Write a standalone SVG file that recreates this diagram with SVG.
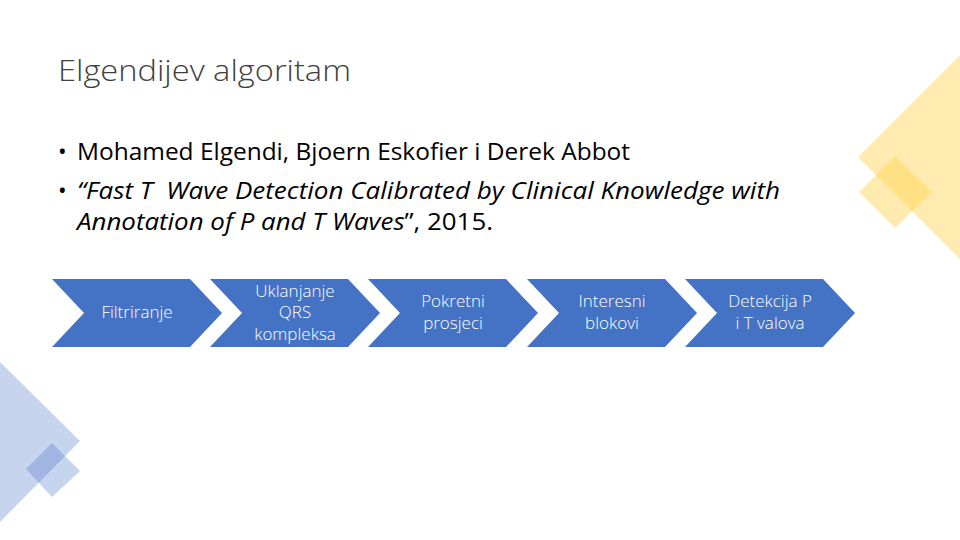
<svg xmlns="http://www.w3.org/2000/svg" width="960" height="540" viewBox="0 0 960 540">
<style>
.title{font-family:"Open Sans","Liberation Sans",sans-serif;font-weight:300;font-size:29px;fill:#404040}
.body{font-family:"Open Sans","Liberation Sans",sans-serif;font-size:23px;fill:#000}
.chev{fill:#4472C4}
.lbl{font-family:"Open Sans","Liberation Sans",sans-serif;font-weight:300;font-size:17px;fill:#fff;text-anchor:middle}
.yel{fill:#FFD24D;opacity:0.45}
.blu{fill:#4472C4;opacity:0.3}
</style>
<defs>
<path id="chevron" d="M0,0 H138 L170,34 L138,68 H0 L32,34 Z"/>
</defs>
<rect width="960" height="540" fill="#fff"/>
<g id="decor-yellow">
<polygon class="yel" points="858,157 960,55 960,259"/>
<polygon class="yel" points="859,192 895,156 932,192 895,228"/>
</g>
<g id="decor-blue">
<polygon class="blu" points="0,362 80,441 0,522"/>
<polygon class="blu" points="26,469 52,443 80,471 52,497"/>
</g>
<g id="title"><text class="title" x="58" y="81" textLength="293" lengthAdjust="spacingAndGlyphs">Elgendijev algoritam</text></g>
<g id="bullets">
<text class="body" x="58" y="160">•</text>
<text class="body" x="77" y="160" textLength="553" lengthAdjust="spacingAndGlyphs">Mohamed Elgendi, Bjoern Eskofier i Derek Abbot</text>
<text class="body" x="58" y="199">•</text>
<text class="body" x="77" y="199" textLength="703" lengthAdjust="spacingAndGlyphs" xml:space="preserve"><tspan font-style="italic">“Fast T  Wave Detection Calibrated by Clinical Knowledge with</tspan></text>
<text class="body" x="77" y="230" textLength="416" lengthAdjust="spacingAndGlyphs" xml:space="preserve"><tspan font-style="italic">Annotation of P and T Waves</tspan>”, 2015.</text>
</g>
<g id="connectors"></g>
<g id="step1"><use href="#chevron" class="chev" x="52" y="279"/><text class="lbl" x="137" y="318">Filtriranje</text></g>
<g id="step2"><use href="#chevron" class="chev" x="210" y="279"/><text class="lbl" x="295" y="297">Uklanjanje</text><text class="lbl" x="295" y="318">QRS</text><text class="lbl" x="295" y="340">kompleksa</text></g>
<g id="step3"><use href="#chevron" class="chev" x="368" y="279"/><text class="lbl" x="453" y="307">Pokretni</text><text class="lbl" x="453" y="329">prosjeci</text></g>
<g id="step4"><use href="#chevron" class="chev" x="527" y="279"/><text class="lbl" x="612" y="307">Interesni</text><text class="lbl" x="612" y="329">blokovi</text></g>
<g id="step5"><use href="#chevron" class="chev" x="685" y="279"/><text class="lbl" x="770" y="307">Detekcija P</text><text class="lbl" x="770" y="329">i T valova</text></g>
</svg>
